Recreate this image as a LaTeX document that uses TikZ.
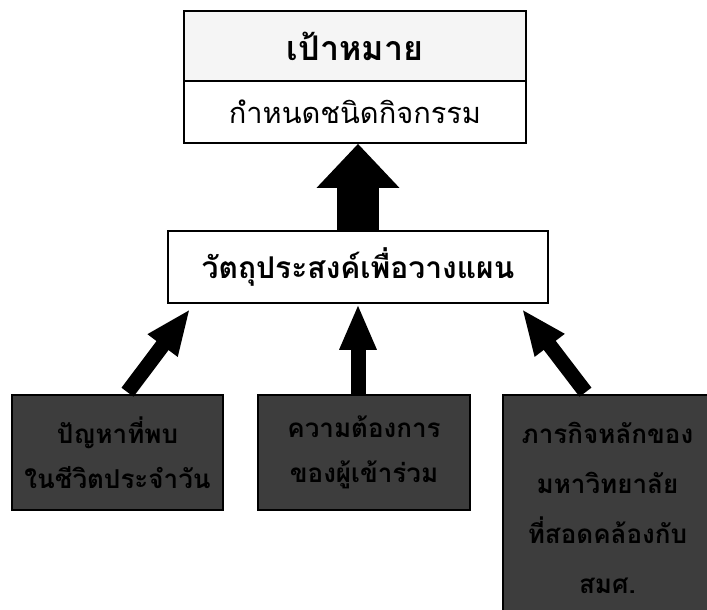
\documentclass[tikz,border=0pt]{standalone}
\usepackage{fontspec}
\newfontfamily\thaifont[Script=Thai]{Loma}
\usetikzlibrary{arrows.meta,calc}
\begin{document}
\begin{tikzpicture}[x=1pt,y=-1pt,
  box/.style={draw=black, line width=1.6pt, inner sep=0pt, align=center},
  darkfont/.style={text=black, font=\thaifont\bfseries\fontsize{26}{45}\selectfont, align=center},
  darkbox/.style={box, fill=black!76, darkfont},
  bigarrow/.style={line width=42pt, -{Triangle[width=80pt,length=44pt]}},
  smallarrow/.style={line width=15pt, -{Triangle[width=34pt,length=46pt]}}
]
\useasboundingbox (0,0) rectangle (707,610);
\fill[white] (0,0) rectangle (707,610);
% top box
\node[box, fill=black!4, minimum width=342pt, minimum height=70pt,
      font=\thaifont\bfseries\fontsize{34}{38}\selectfont] (goal) at (355,46) {เป้าหมาย};
\node[box, fill=white, minimum width=342pt, minimum height=62pt,
      font=\thaifont\fontsize{29}{32}\selectfont] (act) at (355,112) {กำหนดชนิดกิจกรรม};
% middle box
\node[box, fill=white, minimum width=380pt, minimum height=72pt,
      font=\thaifont\bfseries\fontsize{30}{34}\selectfont] (obj) at (358,267) {วัตถุประสงค์เพื่อวางแผน};
% bottom boxes
\node[darkbox, minimum width=211pt, minimum height=115pt] (b1) at (117.5,452.5) {ปัญหาที่พบ\\ในชีวิตประจำวัน};
\node[darkbox, minimum width=212pt, minimum height=115pt] (b2) at (364,452.5) {ความต้องการ\\ของผู้เข้าร่วม};
\node[box, fill=black!76, minimum width=209pt, minimum height=222pt] (b3) at (607.5,506) {};
\node[darkfont, font=\thaifont\bfseries\fontsize{26}{50}\selectfont, anchor=north, inner sep=0pt] (b3t) at ($(b3.north)+(0,28)$) {ภารกิจหลักของ\\มหาวิทยาลัย\\ที่สอดคล้องกับ\\สมศ.};
% arrows
\draw[bigarrow] (obj.north) -- (obj.north |- act.south);
\coordinate (t1) at ($(b1.north)+(10,-2)$);
\coordinate (h1) at ($(obj.south west)+(23,5)$);
\draw[smallarrow] (t1) -- (h1);
\draw[smallarrow] (obj.south |- b2.north) -- (obj.south);
\coordinate (t3) at ($(b3.north)+(-22,-2)$);
\coordinate (h3) at ($(obj.south east)+(-27,5)$);
\draw[smallarrow] (t3) -- (h3);
\end{tikzpicture}
\end{document}
